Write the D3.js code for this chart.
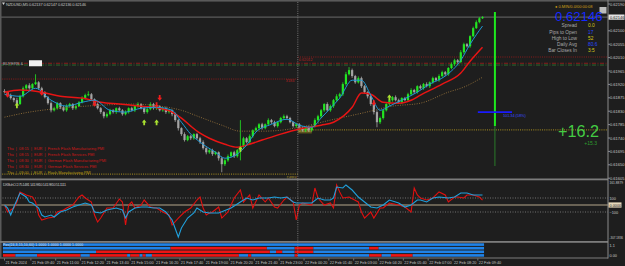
<!DOCTYPE html>
<html>
<head>
<meta charset="utf-8">
<script src="https://cdn.jsdelivr.net/npm/d3@7"></script>
<style>
html, body { margin: 0; padding: 0; background: #1e1e1e; overflow: hidden; }
text { font-family: "Liberation Sans", Arial, sans-serif; }
</style>
</head>
<body>
<div id="chart"></div>
<script>
// ---- data ----
var symbolTitle = 'NZDUSD,M5 0.62137 0.62147 0.62136 0.62146';
var firstBar = '2024-02-21T08:15';
var barMinutes = 10;
var firstOpen = 61898;   // price points (x 1e-5)
var closePts = [
	61894,61884,61874,61867,61854,61880,61907,61917,61907,61921,
	61927,61907,61894,61877,61857,61833,61840,61857,61843,61833,
	61847,61854,61840,61847,61860,61874,61884,61887,61870,61854,
	61840,61827,61813,61820,61833,61827,61840,61833,61820,61827,
	61840,61833,61847,61854,61840,61827,61837,61854,61840,61847,
	61833,61840,61827,61833,61820,61800,61773,61753,61733,61746,
	61739,61753,61739,61726,61706,61692,61699,61686,61692,61672,
	61652,61665,61679,61692,61679,61699,61712,61739,61726,61746,
	61766,61773,61786,61773,61786,61800,61793,61780,61793,61807,
	61813,61807,61793,61780,61786,61773,61766,61776,61766,61780,
	61800,61813,61833,61854,61833,61847,61867,61880,61887,61921,
	61954,61968,61948,61927,61941,61914,61894,61880,61854,61827,
	61793,61807,61833,61854,61867,61877,61867,61860,61874,61867,
	61887,61901,61894,61914,61907,61921,61914,61927,61941,61934,
	61948,61961,61954,61975,61988,62001,61995,62028,62055,62048,
	62082,62109,62129,62142,62146
];
var upWick = [
	6,4,5,3,8,5,6,4,7,3, 27,4,5,3,4,6,5,4,3,5, 6,4,3,5,4,6,5,10,4,3,
	5,4,3,6,5,4,3,5,4,6, 3,5,4,6,3,4,5,6,4,5, 3,4,5,4,3,5,4,3,6,4,
	5,3,4,5,6,3,4,5,4,3, 5,4,6,3,5,4,88,5,4,6, 3,5,4,5,3,6,4,5,3,4,
	6,5,4,3,5,4,6,3,5,4, 6,5,4,3,6,5,4,7,5,6, 8,10,5,4,6,5,4,3,5,4,
	6,5,4,3,5,4,6,5,3,4, 5,6,4,3,5,4,6,3,5,4, 6,5,4,3,6,5,4,7,5,4,
	3,5,6,4,3
];
var loWick = [
	4,6,5,7,5,3,4,6,5,4, 3,5,6,4,5,7,4,5,6,4, 5,4,6,5,3,4,5,4,6,5,
	4,6,7,5,4,5,6,4,5,4, 5,4,6,5,4,6,5,4,5,6, 4,5,6,5,7,6,8,6,5,4,
	6,5,4,6,5,7,5,6,4,8, 27,6,5,4,6,5,34,5,4,6, 5,4,6,5,4,5,6,4,5,4,
	5,6,4,5,6,5,4,6,5,4, 5,4,6,5,4,5,6,4,5,6, 5,4,6,5,4,6,5,7,6,8,
	17,6,5,4,6,5,4,5,6,4, 5,4,6,5,4,5,4,6,5,4, 5,4,6,5,4,6,5,4,5,4,
	5,4,3,4,2
];
// moving averages: [bar index, price points]
var fastMA = [[0,61887],[5,61880],[10,61907],[15,61867],[20,61847],[25,61860],[29,61867],[34,61833],
	[39,61827],[44,61840],[49,61843],[54,61833],[57,61793],[60,61753],[63,61726],[68,61692],[71,61672],
	[75,61686],[78,61716],[81,61760],[86,61786],[91,61803],[95,61783],[99,61776],[102,61807],[105,61840],
	[108,61874],[112,61934],[115,61934],[118,61884],[121,61833],[124,61847],[128,61867],[133,61894],
	[137,61921],[142,61948],[147,62001],[150,62055],[154,62116]];
var slowMA = [[0,61894],[5,61901],[12,61894],[18,61880],[25,61874],[31,61860],[37,61854],[44,61847],
	[50,61840],[54,61827],[57,61807],[60,61780],[63,61756],[66,61739],[71,61719],[75,61709],[78,61716],
	[83,61733],[89,61753],[95,61770],[102,61783],[106,61793],[112,61843],[115,61891],[118,61887],
	[122,61860],[127,61857],[131,61867],[134,61884],[141,61921],[147,61958],[150,61998],[154,62045]];
var longMA = [[0,61810],[8,61827],[18,61840],[31,61850],[41,61854],[50,61847],[57,61833],[63,61810],
	[70,61783],[76,61763],[83,61763],[89,61766],[95,61776],[105,61800],[115,61823],[125,61847],
	[134,61857],[143,61894],[148,61911],[154,61944]];
var sellArrows = [[1,61884],[12,61891],[29,61854],[49,61850],[50,61874],[119,61857]];
var buyArrows = [[4,61850],[45,61793],[49,61793],[76,61703],[124,61877]];

var priceTicks = [0.62190,0.62100,0.62055,0.62010,0.61965,0.61920,0.61875,0.61830,0.61785,0.61740,0.61695,0.61650,0.61605];
var lastPrice = 0.62146;
var dayBreak = '2024-02-22T00:00';
var bandRed = 0.61991, bandGreen = 0.61985;
var pivotPrev = 0.61938, pivotNext = 0.62012;
var supportPrev = 0.61619, supportNext = 0.61767;
var signalTime = '2024-02-22T10:35';
var signalPrices = [0.62163, 0.61780, 0.61646];
var targetLine = { price: 0.61827, from: '2024-02-22T09:40', to: '2024-02-22T11:30', text: '101.34 (58%)' };
var dateTicks = ['2024-02-21T08:15','2024-02-21T09:40','2024-02-21T11:00','2024-02-21T12:20','2024-02-21T13:40',
	'2024-02-21T15:00','2024-02-21T16:20','2024-02-21T17:40','2024-02-21T19:00','2024-02-21T20:20',
	'2024-02-21T21:40','2024-02-21T23:00','2024-02-22T00:20','2024-02-22T01:40','2024-02-22T03:00',
	'2024-02-22T04:20','2024-02-22T05:40','2024-02-22T07:00','2024-02-22T08:20','2024-02-22T09:40'];

var newsEvents = [
	['Thu','08:15','EUR','French Flash Manufacturing PMI','high'],
	['Thu','08:15','EUR','French Flash Services PMI','high'],
	['Thu','08:30','EUR','German Flash Manufacturing PMI','high'],
	['Thu','08:30','EUR','German Flash Services PMI','high'],
	['Thu','09:00','EUR','Flash Manufacturing PMI','medium']
];
var infoLabels = ['Spread','Pips to Open','High to Low','Daily Avg','Bar Closes In'];
var infoValues = ['0.0','17','52','80.6','3:5'];
var timerText = '\u25CF 0.MIN/0.0/00:00:08';
var pipsMain = '+16.2', pipsSub = '+15.3';

// CCI panel: [bar index, value]
var cciTitle = 'DXBuhCCI 75.1481 141.9810 141.9810 51.1111';
var cciRed = [[0,0],[1,-100],[3,-43],[4,43],[5,186],[7,143],[9,114],[10,43],[11,-143],[12,-214],[14,-186],
	[16,-171],[17,-100],[19,-71],[20,-43],[22,0],[24,114],[25,143],[26,100],[28,43],[29,-143],[30,-243],
	[31,-186],[32,-114],[33,-43],[35,-43],[37,86],[38,43],[39,-286],[40,0],[41,43],[42,-43],[44,0],[45,71],
	[47,-29],[49,-43],[51,-100],[53,-143],[54,-286],[56,-186],[58,-100],[60,-43],[62,71],[63,114],[64,-43],
	[65,-143],[66,-114],[67,-100],[69,-29],[70,-186],[72,-100],[74,100],[76,214],[77,43],[79,143],[80,-43],
	[82,143],[84,43],[85,100],[87,-29],[88,-43],[90,71],[91,114],[93,43],[94,-214],[95,0],[96,29],[99,0],
	[100,243],[101,100],[103,0],[105,29],[106,-43],[107,286],[108,186],[109,100],[111,114],[114,43],
	[115,-100],[116,-186],[118,-100],[119,-186],[121,-43],[122,-43],[124,29],[127,0],[129,-29],[131,-100],
	[132,243],[133,143],[134,100],[136,71],[138,100],[140,186],[142,143],[143,43],[145,114],[146,114],
	[148,100],[149,143],[151,143],[153,114],[154,71]];
var cciBlue = [[0,0],[1,-43],[2,-143],[3,-29],[4,71],[5,171],[7,114],[8,43],[9,29],[11,-43],[12,-143],
	[13,-171],[15,-143],[16,-171],[18,-100],[20,-71],[22,-29],[24,0],[26,29],[28,0],[29,-100],[31,-114],
	[33,-71],[36,-43],[38,-71],[39,-186],[40,-100],[42,-43],[44,-29],[46,-29],[48,-43],[50,-43],[52,-100],
	[54,-214],[56,-457],[57,-329],[59,-186],[61,-114],[62,-43],[64,-100],[66,-114],[69,-114],[73,-43],
	[76,43],[78,100],[80,71],[82,100],[85,100],[87,114],[89,100],[91,114],[93,43],[94,29],[96,29],[99,29],
	[101,100],[103,71],[105,71],[106,100],[107,257],[109,243],[110,286],[112,214],[114,114],[116,43],
	[118,-29],[120,-43],[122,0],[124,71],[127,29],[129,-29],[131,0],[133,71],[134,71],[136,43],[138,100],
	[140,114],[143,100],[145,114],[147,171],[149,171],[151,143],[154,143]];
var cciLevels = [100, -100];
var cciMaxLabel = '161.8879', cciMinLabel = '-307.1836';

// position panel: runs of [start bar, state] (1 = long, 0 = short)
var posTitle = 'Pos(24,3,15,10,60) 1.0000 1.0000 1.0000 1.0000';
var posRows = [
	[[0,1]],
	[[0,1],[54,0],[85,1],[94,0],[100,1],[118,0],[121,1]],
	[[0,1],[30,0],[86,1],[88,0],[90,1],[94,0],[100,1]],
	[[0,0],[4,1],[11,0],[25,1],[28,0],[40,1],[41,0],[44,1],[45,0],[46,1],[48,0],[76,1],[79,0],[80,1],
	 [94,0],[95,1],[118,0],[122,1],[125,0],[132,1]]
];

// ---- layout ----
var W = 625, H = 266;
var axisX = 608;
var mainTop = 2, mainBottom = 178.5;
var cciBottom = 241;
var posBottom = 257.5;

var svg = d3.select('#chart').append('svg')
	.attr('width', W).attr('height', H)
	.style('display', 'block');
svg.append('rect').attr('width', W).attr('height', H).attr('fill', '#1e1e1e');

var parseT = d3.timeParse('%Y-%m-%dT%H:%M');
var t0 = parseT(firstBar);
var nBars = closePts.length;
function barTime(i) { return d3.timeMinute.offset(t0, i * barMinutes); }
var x = d3.scaleTime().domain([t0, barTime(nBars - 1)]).range([4.5, 482.5]);
function xi(i) { return x(barTime(i)); }
var dx = xi(1) - xi(0);

var y = d3.scaleLinear().domain([0.61605, 0.62190]).range([178.2, 4]);
function yp(pts) { return y(pts / 1e5); }
var cy = d3.scaleLinear().domain([-100, 100]).range([212, 198]);

var chart = svg.append('g');
chart.append('clipPath').attr('id', 'mainClip')
	.append('rect').attr('x', 0).attr('y', mainTop).attr('width', axisX).attr('height', mainBottom - mainTop);
var main = chart.append('g').attr('clip-path', 'url(#mainClip)');

// horizontal levels
var xBreak = x(parseT(dayBreak));
function hline(g, x1, x2, yv, color, dash, w) {
	g.append('line').attr('x1', x1).attr('x2', x2).attr('y1', yv).attr('y2', yv)
		.attr('stroke', color).attr('stroke-width', w || 1)
		.attr('stroke-dasharray', dash || null);
}
hline(main, 0, axisX, y(lastPrice), '#6a6a6a');
hline(main, 0, axisX, y(bandRed), '#8a1c1c', '4,1.5,1,1.5');
hline(main, 0, axisX, y(bandGreen), '#2c6a2c', '4,1.5,1,1.5');
hline(main, 0, xBreak, y(pivotPrev), '#8a1c1c', '1,1.2');
hline(main, xBreak, axisX, y(pivotNext), '#8a1c1c', '1,1.2');
hline(main, 0, xBreak, y(supportPrev), '#8f7a20', '1,1.2', 1.2);
hline(main, xBreak, axisX, y(supportNext), '#8f7a20', '1,1.2', 1.2);

// level labels
main.append('text').attr('x', xBreak - 12).attr('y', y(pivotPrev) + 3).attr('font-size', 3.8)
	.attr('fill', '#b02020').text('3184');
main.append('text').attr('x', xBreak + 1).attr('y', y(pivotNext) + 4.2).attr('font-size', 3.8)
	.attr('fill', '#b02020').text(d3.format('.5f')(pivotNext));
main.append('rect').attr('x', xBreak).attr('y', y(supportNext) - 2.5).attr('width', 14).attr('height', 6)
	.attr('fill', '#5e5420');
main.append('text').attr('x', xBreak + 0.8).attr('y', y(supportNext) + 2.3).attr('font-size', 3.8)
	.attr('fill', '#d8c860').text(d3.format('.5f')(supportNext));
main.append('text').attr('x', xBreak - 11).attr('y', y(supportPrev) + 4.5).attr('font-size', 3.8)
	.attr('fill', '#b09a30').text('DPP4');
main.append('text').attr('x', 3).attr('y', y(bandRed) + 1.3).attr('font-size', 4)
	.attr('fill', '#b0b0b0').text('BUYERS &');
main.append('rect').attr('x', 29).attr('y', y(bandRed) - 3).attr('width', 13).attr('height', 6)
	.attr('fill', '#f0f0f0');

// candles
var opens = closePts.map(function(c, i) { return i === 0 ? firstOpen : closePts[i - 1]; });
var candles = main.append('g').attr('class', 'candles');
closePts.forEach(function(c, i) {
	var o = opens[i];
	var hi = Math.max(o, c) + upWick[i];
	var lo = Math.min(o, c) - loWick[i];
	var col = c >= o ? '#22e622' : '#a4a4a4';
	var cx = xi(i);
	candles.append('line').attr('x1', cx).attr('x2', cx)
		.attr('y1', yp(hi)).attr('y2', yp(lo)).attr('stroke', col).attr('stroke-width', 0.8);
	var top = yp(Math.max(o, c)), bot = yp(Math.min(o, c));
	candles.append('rect').attr('x', cx - 1.1).attr('width', 2.2)
		.attr('y', top).attr('height', Math.max(1, bot - top)).attr('fill', col);
});

// moving averages
var maLine = d3.line()
	.x(function(d) { return xi(d[0]); })
	.y(function(d) { return yp(d[1]); })
	.curve(d3.curveMonotoneX);
main.append('path').datum(longMA).attr('d', maLine).attr('fill', 'none')
	.attr('stroke', '#8a6a38').attr('stroke-width', 1).attr('stroke-dasharray', '1,1.4');
main.append('path').datum(slowMA).attr('d', maLine).attr('fill', 'none')
	.attr('stroke', '#e81414').attr('stroke-width', 1.5);
main.append('path').datum(fastMA).attr('d', maLine).attr('fill', 'none')
	.attr('stroke', '#1f9ad6').attr('stroke-width', 1);

// arrows
var downArrow = 'M-0.9,-3 L0.9,-3 L0.9,-0.3 L2.4,-0.3 L0,2.6 L-2.4,-0.3 L-0.9,-0.3 Z';
var upArrow = 'M-0.9,3 L0.9,3 L0.9,0.3 L2.4,0.3 L0,-2.6 L-2.4,0.3 L-0.9,0.3 Z';
main.selectAll('.sell').data(sellArrows).enter().append('path').attr('class', 'sell')
	.attr('d', downArrow).attr('fill', '#f01c1c')
	.attr('transform', function(d) { return 'translate(' + xi(d[0]) + ',' + yp(d[1]) + ')'; });
main.selectAll('.buy').data(buyArrows).enter().append('path').attr('class', 'buy')
	.attr('d', upArrow).attr('fill', '#a8e030')
	.attr('transform', function(d) { return 'translate(' + xi(d[0]) + ',' + yp(d[1]) + ')'; });

// news lines
main.selectAll('.news').data(newsEvents).enter().append('text').attr('class', 'news')
	.attr('x', 7).attr('y', function(d, i) { return 149.5 + i * 6; })
	.attr('font-size', 3.9)
	.attr('fill', function(d) { return d[4] === 'high' ? '#d01818' : '#b89a10'; })
	.attr('xml:space', 'preserve')
	.text(function(d) { return d.slice(0, 4).join('  |  '); });

// signal line and target
var xs = x(parseT(signalTime));
main.append('line').attr('x1', xs).attr('x2', xs).attr('y1', y(signalPrices[1])).attr('y2', y(signalPrices[2]))
	.attr('stroke', '#2a7a2a').attr('stroke-width', 1);
main.append('line').attr('x1', xs).attr('x2', xs).attr('y1', y(signalPrices[0])).attr('y2', y(signalPrices[1]))
	.attr('stroke', '#1ee81e').attr('stroke-width', 2);
main.append('line')
	.attr('x1', x(parseT(targetLine.from))).attr('x2', x(parseT(targetLine.to)))
	.attr('y1', y(targetLine.price)).attr('y2', y(targetLine.price))
	.attr('stroke', '#1a1aff').attr('stroke-width', 1.6);
main.append('text').attr('x', xs + 8).attr('y', y(targetLine.price) + 4.5).attr('font-size', 3.8)
	.attr('fill', '#3a4cff').text(targetLine.text);

main.append('text').attr('x', 599).attr('y', 136.7).attr('text-anchor', 'end')
	.attr('font-size', 16.2).attr('fill', '#44cc44').text(pipsMain);
main.append('text').attr('x', 597).attr('y', 145).attr('text-anchor', 'end')
	.attr('font-size', 5).attr('fill', '#2e9e2e').text(pipsSub);

// info panel
main.append('text').attr('x', 555).attr('y', 7.8).attr('font-size', 4).attr('fill', '#d4a017').text(timerText);
main.append('rect').attr('x', 599.5).attr('y', 7).attr('width', 7).attr('height', 6.5).attr('fill', '#bcbcbc');
main.append('text').attr('x', 555).attr('y', 20.6).attr('font-size', 13.2).attr('fill', '#1428ff')
	.text(d3.format('.5f')(lastPrice));
infoLabels.forEach(function(lbl, i) {
	var yy = 27.4 + i * 6.1;
	main.append('text').attr('x', 577).attr('y', yy).attr('text-anchor', 'end')
		.attr('font-size', 4.8).attr('fill', '#a8a8a8').text(lbl);
	main.append('text').attr('x', 588).attr('y', yy)
		.attr('font-size', 4.8).attr('fill', i % 2 ? '#2848ff' : '#d8c81a').text(infoValues[i]);
});

// title
svg.append('path').attr('d', 'M2,2.5 L5,2.5 L3.5,5 Z').attr('fill', '#d0d0d0');
svg.append('text').attr('x', 6).attr('y', 5.6).attr('font-size', 4).attr('fill', '#c4c4c4')
	.attr('textLength', 80).text(symbolTitle);

// ---- CCI panel ----
var cciG = svg.append('g');
cciLevels.forEach(function(v) {
	hline(cciG, 0, axisX, cy(v), '#707070', '1,1.5');
});
hline(cciG, 0, axisX, cy(0), '#b4a68a', null, 1);
var cciLine = d3.line().x(function(d) { return xi(d[0]); }).y(function(d) { return cy(d[1]); });
cciG.append('path').datum(cciRed).attr('d', cciLine).attr('fill', 'none')
	.attr('stroke', '#e01010').attr('stroke-width', 1.1);
cciG.append('path').datum(cciBlue).attr('d', cciLine).attr('fill', 'none')
	.attr('stroke', '#20a0dc').attr('stroke-width', 1.1);
cciG.append('text').attr('x', 3).attr('y', 185.5).attr('font-size', 3.8).attr('fill', '#c0c0c0')
	.attr('textLength', 63).text(cciTitle);

// ---- position panel ----
var rowColor = ['#ee1414', '#1e82e8'];
posRows.forEach(function(runs, r) {
	var ry = 243.3 + r * 3.6;
	runs.forEach(function(run, k) {
		var end = k + 1 < runs.length ? runs[k + 1][0] : nBars;
		svg.append('rect')
			.attr('x', xi(run[0]) - dx / 2).attr('width', xi(end) - xi(run[0]))
			.attr('y', ry).attr('height', 2.6).attr('fill', rowColor[run[1]]);
	});
});
svg.append('text').attr('x', 3).attr('y', 246).attr('font-size', 3.2).attr('fill', '#e8e8e8')
	.attr('textLength', 80).text(posTitle);

// ---- frames ----
svg.append('rect').attr('x', 0).attr('y', 0).attr('width', W).attr('height', 1.6).attr('fill', '#5a5a5a');
svg.append('rect').attr('x', 0).attr('y', 0).attr('width', 1.5).attr('height', posBottom).attr('fill', '#5a5a5a');
svg.append('rect').attr('x', 0).attr('y', mainBottom).attr('width', axisX).attr('height', 1.8).attr('fill', '#7c7c7c');
svg.append('rect').attr('x', 0).attr('y', cciBottom).attr('width', axisX).attr('height', 1.8).attr('fill', '#7c7c7c');
svg.append('rect').attr('x', 0).attr('y', posBottom).attr('width', axisX).attr('height', 1).attr('fill', '#7c7c7c');
svg.append('line').attr('x1', axisX).attr('x2', axisX).attr('y1', 0).attr('y2', posBottom + 1)
	.attr('stroke', '#8a8a8a').attr('stroke-width', 1);
svg.append('line').attr('x1', xBreak).attr('x2', xBreak).attr('y1', 2).attr('y2', posBottom)
	.attr('stroke', '#8c8c8c').attr('stroke-width', 0.8).attr('stroke-dasharray', '1,1.2');

// price axis
var pa = svg.append('g');
priceTicks.forEach(function(p) {
	pa.append('line').attr('x1', axisX).attr('x2', axisX + 2).attr('y1', y(p)).attr('y2', y(p)).attr('stroke', '#8a8a8a');
	pa.append('text').attr('x', 610).attr('y', y(p) + 1.5).attr('font-size', 4).attr('fill', '#c8c8c8')
		.text(d3.format('.5f')(p));
});
pa.append('rect').attr('x', axisX + 0.5).attr('y', y(lastPrice) - 2.6).attr('width', 16).attr('height', 5.2).attr('fill', '#e2e2e2');
pa.append('text').attr('x', 610).attr('y', y(lastPrice) + 1.5).attr('font-size', 4).attr('fill', '#111')
	.text(d3.format('.5f')(lastPrice));

// CCI axis labels
function sideLabel(yy, t, boxed) {
	if (boxed) {
		pa.append('rect').attr('x', axisX + 0.5).attr('y', yy - 2.6).attr('width', 13).attr('height', 5.2).attr('fill', '#e6d9bb');
	}
	var tx = pa.append('text').attr('x', 609.5).attr('y', yy + 1.5)
		.attr('font-size', t.length > 8 ? 3.3 : 3.8)
		.attr('fill', boxed ? '#222' : '#c8c8c8').text(t);
	if (t.length > 7) tx.attr('textLength', 13.5).attr('lengthAdjust', 'spacingAndGlyphs');
}
sideLabel(182.5, cciMaxLabel);
cciLevels.forEach(function(v) { sideLabel(cy(v), d3.format('d')(v)); });
sideLabel(cy(0), '0.0000', true);
sideLabel(237.6, cciMinLabel);
sideLabel(245, '1.1');
sideLabel(255.5, '0.00');

// date axis
var fmtFirst = d3.timeFormat('%d %b %Y'), fmtRest = d3.timeFormat('%d %b %H:%M');
var da = svg.append('g');
dateTicks.forEach(function(s, i) {
	var t = parseT(s), xx = x(t);
	da.append('line').attr('x1', xx).attr('x2', xx).attr('y1', posBottom + 1).attr('y2', posBottom + 3)
		.attr('stroke', '#8a8a8a').attr('stroke-width', 0.8);
	da.append('text').attr('x', xx + 1).attr('y', 264).attr('font-size', 3.8).attr('fill', '#c0c0c0')
		.text(i === 0 ? fmtFirst(t) : fmtRest(t));
});
</script>
</body>
</html>
